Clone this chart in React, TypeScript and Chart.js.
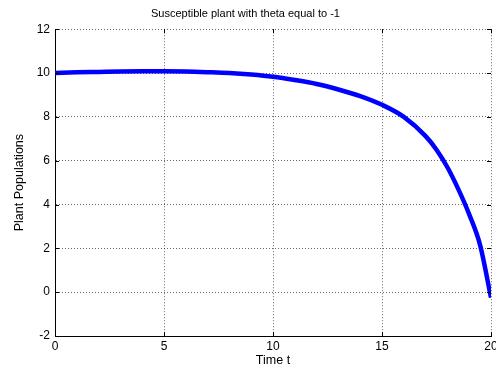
import React, { useEffect, useRef } from "react";
import { Chart, registerables } from "chart.js";

Chart.register(...registerables);

// Time samples and plant population readings
const timeValues = [0, 1, 2, 3, 4, 5, 6, 7, 8, 9, 10, 11, 12, 13, 14, 15, 16, 17, 17.5, 18, 18.5, 19, 19.5, 20];
const populationValues = [10.0, 10.03, 10.05, 10.07, 10.08, 10.08, 10.07, 10.04, 10.0, 9.93, 9.83, 9.68, 9.5, 9.25, 8.95, 8.55, 8.0, 7.12, 6.5, 5.7, 4.7, 3.55, 2.15, -0.25];

const xTicks = [0, 5, 10, 15, 20];
const yTicks = [-2, 0, 2, 4, 6, 8, 10, 12];

const FONT = "'Liberation Sans', Arial, sans-serif";
const GRID_COLOR = "rgba(0,0,0,0.6)";

// Small inward tick marks on all four sides of the plot box
const innerTicks = {
  id: "innerTicks",
  afterDatasetsDraw(chart: any) {
    const { ctx, chartArea, scales } = chart;
    const len = 4;
    ctx.save();
    ctx.strokeStyle = "#000";
    ctx.lineWidth = 1;
    ctx.beginPath();
    for (const v of xTicks) {
      const px = Math.round(scales.x.getPixelForValue(v)) + 0.5;
      ctx.moveTo(px, chartArea.bottom);
      ctx.lineTo(px, chartArea.bottom - len);
      ctx.moveTo(px, chartArea.top);
      ctx.lineTo(px, chartArea.top + len);
    }
    for (const v of yTicks) {
      const py = Math.round(scales.y.getPixelForValue(v)) + 0.5;
      ctx.moveTo(chartArea.left, py);
      ctx.lineTo(chartArea.left + len, py);
      ctx.moveTo(chartArea.right, py);
      ctx.lineTo(chartArea.right - len, py);
    }
    ctx.stroke();
    ctx.restore();
  },
};

export default function App() {
  const canvasRef = useRef<HTMLCanvasElement | null>(null);

  useEffect(() => {
    if (!canvasRef.current) return;
    const chart = new Chart(canvasRef.current, {
      type: "line",
      data: {
        datasets: [
          {
            data: timeValues.map((t, i) => ({ x: t, y: populationValues[i] })),
            borderColor: "#0000ff",
            borderWidth: 4.5,
            pointRadius: 0,
            cubicInterpolationMode: "monotone",
            fill: false,
          },
        ],
      },
      plugins: [innerTicks],
      options: {
        animation: false,
        responsive: false,
        maintainAspectRatio: false,
        layout: { padding: { left: 0, right: 5, top: 0, bottom: 0 } },
        plugins: {
          legend: { display: false },
          tooltip: { enabled: false },
          title: {
            display: true,
            text: "Susceptible plant with theta equal to -1",
            color: "#000",
            font: { family: FONT, size: 11, weight: "normal" },
            padding: { top: 7, bottom: 9 },
          },
        },
        scales: {
          x: {
            type: "linear",
            min: 0,
            max: 20,
            afterBuildTicks: (scale: any) => {
              scale.ticks = xTicks.map((v) => ({ value: v }));
            },
            afterFit: (scale: any) => {
              scale.height = 35;
              scale.paddingRight = 0;
              scale.paddingLeft = 0;
            },
            ticks: {
              color: "#000",
              font: { family: FONT, size: 12 },
              padding: 3,
              maxRotation: 0,
              autoSkip: false,
            },
            grid: {
              color: GRID_COLOR,
              drawTicks: false,
            },
            // dash applies to the grid lines; the axis line itself stays solid
            border: { display: true, color: "#000", width: 1, dash: [1, 2] },
            title: {
              display: true,
              text: "Time t",
              color: "#000",
              font: { family: FONT, size: 12.5 },
              padding: { top: 0, bottom: 3 },
            },
          },
          y: {
            type: "linear",
            min: -2,
            max: 12,
            afterBuildTicks: (scale: any) => {
              scale.ticks = yTicks.map((v) => ({ value: v }));
            },
            afterFit: (scale: any) => {
              scale.width = 55;
            },
            ticks: {
              color: "#000",
              font: { family: FONT, size: 12 },
              padding: 5,
            },
            grid: {
              color: GRID_COLOR,
              drawTicks: false,
            },
            border: { display: true, color: "#000", width: 1, dash: [1, 2] },
            title: {
              display: true,
              text: "Plant Populations",
              color: "#000",
              font: { family: FONT, size: 12.5 },
              padding: { top: 12, bottom: 0 },
            },
          },
        },
      } as any,
    });

    return () => chart.destroy();
  }, []);

  return (
    <div style={{ position: "fixed", left: 0, top: 0, width: 496, height: 371, background: "#fff" }}>
      <canvas ref={canvasRef} width={496} height={371} style={{ width: 496, height: 371 }} />
    </div>
  );
}
